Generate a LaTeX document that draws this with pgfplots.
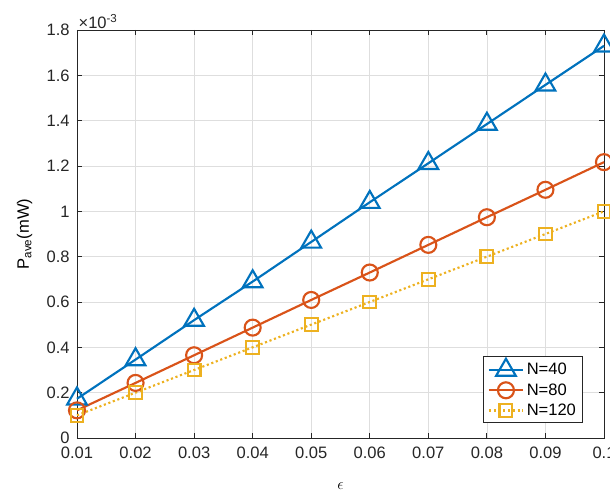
\documentclass[border=0pt]{standalone}
\usepackage{pgfplots}
\pgfplotsset{compat=1.18}
\usepackage{fontspec}
\setmainfont{Liberation Sans}
\definecolor{mblue}{rgb}{0,0.447,0.741}
\definecolor{mred}{rgb}{0.85,0.325,0.098}
\definecolor{myellow}{rgb}{0.929,0.694,0.125}
\definecolor{maxis}{rgb}{0.15,0.15,0.15}
\begin{document}
\begin{tikzpicture}
\useasboundingbox (-57.75pt,-39.75pt) rectangle (399.75pt,328.5pt);
\begin{axis}[
  scale only axis,
  width=395.25pt, height=306pt,
  at={(0,0)}, anchor=south west,
  clip=false,
  xmin=0.01, xmax=0.1, ymin=0, ymax=1.8,
  xtick={0.01,0.02,0.03,0.04,0.05,0.06,0.07,0.08,0.09,0.1},
  xticklabels={0.01,0.02,0.03,0.04,0.05,0.06,0.07,0.08,0.09,0.1},
  ytick={0,0.2,0.4,0.6,0.8,1,1.2,1.4,1.6,1.8},
  yticklabels={0,0.2,0.4,0.6,0.8,1,1.2,1.4,1.6,1.8},
  scaled ticks=false,
  grid=major,
  major grid style={color=black!13, line width=0.5pt},
  axis line style={color=maxis, line width=0.6pt},
  tick style={color=maxis, line width=0.6pt},
  tick align=inside,
  major tick length=4pt,
  font=\fontsize{12.4}{14}\selectfont,
  ticklabel style={color=maxis},
  xticklabel style={yshift=-3pt},
  yticklabel style={xshift=-2pt},
  /pgf/number format/assume math mode=true,
  xlabel={$\epsilon$},
  ylabel={P\textsubscript{ave}(mW)},
  xlabel style={at={(axis description cs:0.5,0)}, anchor=north, yshift=-30pt},
  ylabel style={at={(axis description cs:0,0.5)}, anchor=south, xshift=0pt, yshift=30pt},
  legend cell align=left,
  legend style={at={(axis cs:0.1,0)}, anchor=south east, xshift=-15.75pt, yshift=11.25pt,
    draw=maxis, line width=0.6pt, inner xsep=3pt, inner ysep=2pt, row sep=1pt,
    font=\fontsize{12.4}{14}\selectfont},
  legend image code/.code={%
    \draw[mark repeat=2,mark phase=2] plot coordinates {(0cm,0cm) (0.45cm,0cm) (0.9cm,0cm)};},
  legend image post style={mark options={solid}},
]
\addplot[color=mblue, line width=1.6pt, mark=triangle, mark size=8.5pt, mark options={line width=1.6pt}]
coordinates {(0.01,0.173) (0.02,0.346) (0.03,0.52) (0.04,0.69) (0.05,0.865) (0.06,1.04) (0.07,1.212) (0.08,1.385) (0.09,1.558) (0.1,1.73)};
\addlegendentry{N=40}
\addplot[color=mred, line width=1.6pt, mark=o, mark size=6pt, mark options={line width=1.6pt}]
coordinates {(0.01,0.122) (0.02,0.243) (0.03,0.365) (0.04,0.487) (0.05,0.609) (0.06,0.73) (0.07,0.852) (0.08,0.974) (0.09,1.095) (0.1,1.217)};
\addlegendentry{N=80}
\addplot[color=myellow, line width=1.6pt, dotted, mark=square, mark size=4.8pt, mark options={line width=1.6pt, solid}]
coordinates {(0.01,0.1) (0.02,0.2) (0.03,0.3) (0.04,0.4) (0.05,0.5) (0.06,0.6) (0.07,0.7) (0.08,0.8) (0.09,0.9) (0.1,1.0)};
\addlegendentry{N=120}
\node[anchor=south west, inner sep=1pt, color=maxis, font=\fontsize{12.4}{14}\selectfont] at (rel axis cs:0,1) {×10\textsuperscript{-3}};
\end{axis}
\end{tikzpicture}
\end{document}
